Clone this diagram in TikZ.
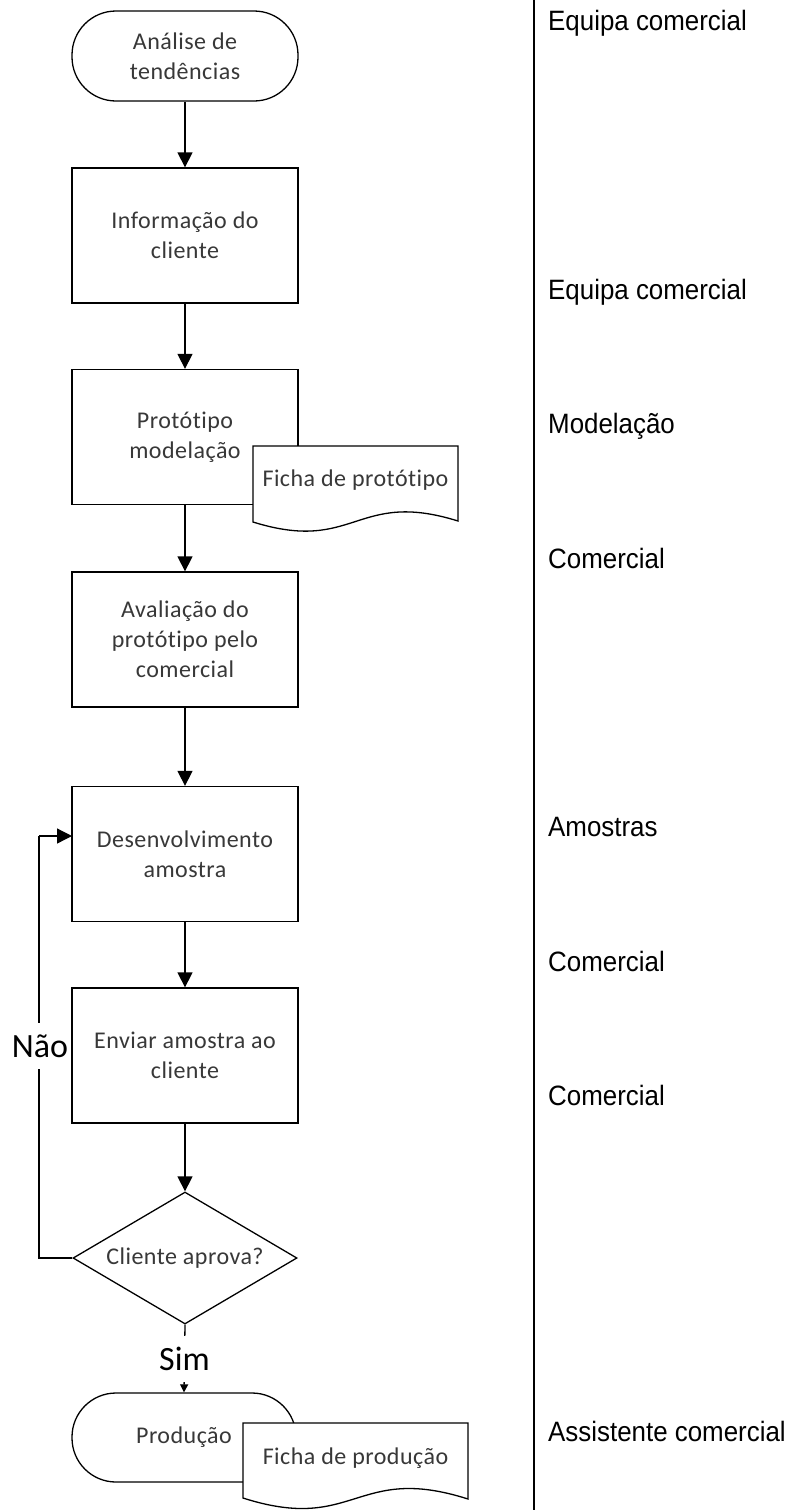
\documentclass[tikz,border=0pt]{standalone}
\usepackage{fontspec}
\setmainfont{Carlito}
\newfontfamily\boxff[LetterSpace=2,Ligatures=NoCommon]{Carlito}
\newfontfamily\labff[FakeStretch=0.925]{Liberation Sans}
\usetikzlibrary{arrows.meta,shapes.geometric}
\begin{document}
\begin{tikzpicture}[x=1pt,y=-1pt,
  shapeline/.style={draw=black, line width=1.3pt, fill=white},
  boxtext/.style={font=\boxff\fontsize{24}{30}\selectfont, text=black!78, align=center},
  procbox/.style={shapeline, boxtext, minimum width=226pt, minimum height=135pt, inner sep=0pt},
  termbox/.style={shapeline, boxtext, rounded corners=44pt, minimum width=226pt, minimum height=90pt, inner sep=0pt},
  decbox/.style={shapeline, boxtext, diamond, aspect=1.7, minimum width=224pt, minimum height=132pt, inner sep=0pt},
  flow/.style={draw=black, line width=1.3pt, -{Triangle[width=15pt,length=15pt]}},
  smallflow/.style={draw=black, line width=1.3pt, -{Triangle[width=8pt,length=8pt]}},
  branch/.style={font=\fontsize{34}{34}\selectfont, text=black, fill=white, inner sep=0pt, minimum height=46pt},
  rolelabel/.style={font=\labff\fontsize{28}{28}\selectfont, text=black, anchor=base west, inner sep=0pt},
  doctext/.style={boxtext, inner sep=0pt}
]
\useasboundingbox (0,0) rectangle (788,1510);

% divider
\draw[line width=2pt] (533.7,0) -- (533.7,1510);

% flow nodes
\node[termbox] (start) at (185,56) {Análise de\\tendências};
\node[procbox] (b1) at (185,235.5) {Informação do\\cliente};
\node[procbox] (b2) at (185,437) {Protótipo\\modelação};
\node[procbox] (b3) at (185,639.5) {Avaliação do\\protótipo pelo\\comercial};
\node[procbox] (b4) at (185,854) {Desenvolvimento\\amostra};
\node[procbox] (b5) at (185,1055.5) {Enviar amostra ao\\cliente};
\node[decbox] (dec) at (185,1258) {Cliente aprova?};
\node[termbox, minimum width=224pt, minimum height=89pt] (prod) at (184,1437.5) {Produção};

% connectors
\draw[flow] (start) -- (b1);
\draw[flow] (b1) -- (b2);
\draw[flow] (b2) -- (b3);
\draw[flow] (b3) -- (b4);
\draw[flow] (b4) -- (b5);
\draw[flow] (b5) -- (dec);
\draw[smallflow] (dec.south) -- node[branch] (sim) {Sim} (prod.north);

\coordinate (loopL) at (39,1258);
\coordinate (loopT) at (39,836);
\coordinate (in4) at (72,836);
\draw[draw=black, line width=1.3pt] (dec.west) -- (loopL) -- (loopT);
\draw[flow] (loopT) -- (in4);
\node[branch] (nao) at (40,1046) {Não};

% documents
\path[shapeline] (253,446) -- (458,446) -- (458,521)
  .. controls (355.5,489) and (355.5,554) .. (253,522) -- cycle;
\node[doctext] (doc1) at (355.5,480) {Ficha de protótipo};

\path[shapeline] (243,1423) -- (468,1423) -- (468,1499)
  .. controls (355.5,1463) and (355.5,1534) .. (243,1498) -- cycle;
\node[doctext] (doc2) at (355.5,1458) {Ficha de produção};

% role labels
\node[rolelabel] (r1) at (548,30) {Equipa comercial};
\node[rolelabel] (r2) at (548,299) {Equipa comercial};
\node[rolelabel] (r3) at (548,433) {Modelação};
\node[rolelabel] (r4) at (548,568) {Comercial};
\node[rolelabel] (r5) at (548,836) {Amostras};
\node[rolelabel] (r6) at (548,971) {Comercial};
\node[rolelabel] (r7) at (548,1105) {Comercial};
\node[rolelabel] (r8) at (548,1441) {Assistente comercial};
\end{tikzpicture}
\end{document}
